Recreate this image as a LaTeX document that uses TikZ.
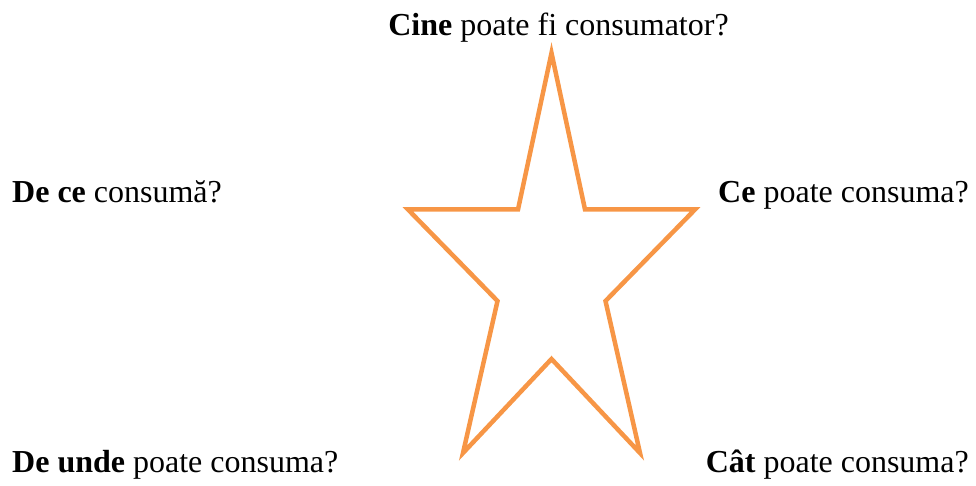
\documentclass[tikz,border=0pt]{standalone}
\usepackage{fontspec}
\setmainfont{Liberation Serif}
\usetikzlibrary{positioning}
\definecolor{starorange}{HTML}{F79646}
\tikzset{question/.style={inner sep=0pt,font=\fontsize{32}{38}\selectfont}}

\begin{document}
\begin{tikzpicture}[x=1pt,y=-1pt]
        \useasboundingbox (0,0) rectangle (976,486);
        \draw[starorange,line width=4.5pt,line join=miter]
          (551.5,53)--(585,209.5)--(695,209.5)--(605.5,301)--(640,453)--(551.5,359)
          --(463,453)--(497.5,301)--(408,209.5)--(518,209.5)--cycle;
        \node[question,anchor=base] (cine) at (558.5,36) {\textbf{Cine} poate fi consumator?};
        \node[question,anchor=base west] (dece) at (12,203) {\textbf{De ce} consumă?};
        \node[question,anchor=base east] (ce) at (969,203) {\textbf{Ce} poate consuma?};
        \node[question,anchor=base west] (deunde) at (12,472) {\textbf{De unde} poate consuma?};
        \node[question,anchor=base east] (cat) at (969,472) {\textbf{Cât} poate consuma?};
      \end{tikzpicture}
\end{document}
